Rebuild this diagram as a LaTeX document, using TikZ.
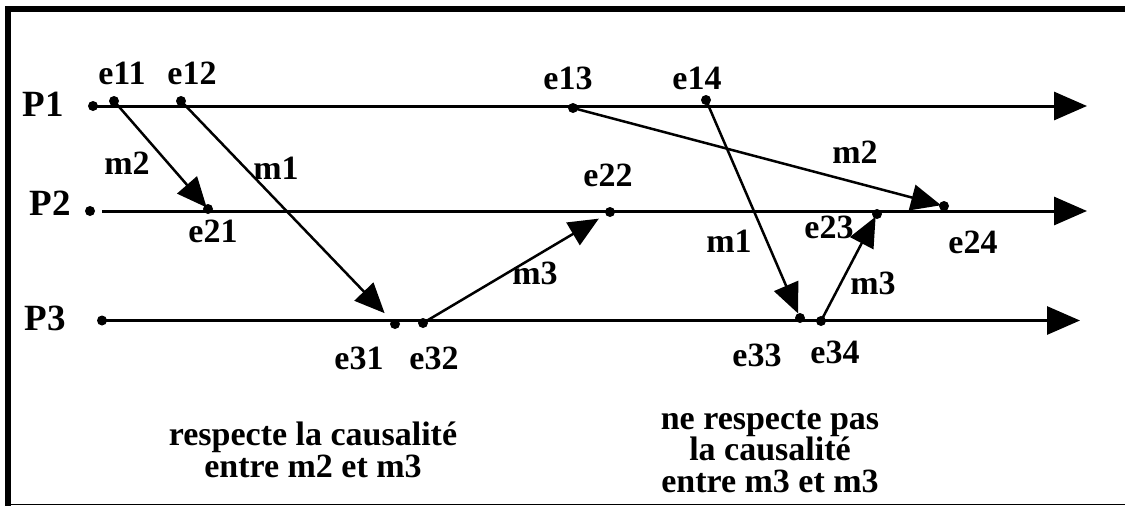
\documentclass[tikz,border=0pt]{standalone}
\usepackage{fontspec}
\setmainfont{Liberation Serif}
\usetikzlibrary{arrows.meta}
\begin{document}
\begin{tikzpicture}[x=1pt,y=-1pt,
  dot/.style={circle,fill=black,inner sep=0pt,minimum size=10pt},
  lbl/.style={inner sep=0pt,font=\fontsize{34}{34}\selectfont\bfseries},
  plbl/.style={inner sep=0pt,font=\fontsize{37}{37}\selectfont\bfseries},
  caption/.style={inner sep=0pt,align=center,font=\fontsize{34}{31.5}\selectfont\bfseries},
  axis/.style={line width=3pt,-{Triangle[length=33pt,width=28pt]}},
  msg/.style={line width=2.5pt,-{Triangle[length=30pt,width=26pt]}},
]
\useasboundingbox (0,0) rectangle (1125,506);
% frame
\fill (5,6) rectangle (1125,12);
\fill (5,6) rectangle (11,506);
\draw[line width=1.7pt] (8,504.5) -- (1125,504.5);

% process lines
\node[dot] (s1) at (93,106) {};
\node[dot] (s2) at (90,211) {};
\node[dot] (s3) at (102,320.5) {};
\coordinate (t1) at (1087,106);
\coordinate (t2) at (1087,211);
\coordinate (t3) at (1080,320.5);
\draw[axis] (s1.center) -- (t1);
\draw[axis,shorten <=12pt] (s2.center) -- (t2);
\draw[axis] (s3.center) -- (t3);
\node[plbl] (P1) at (43,104) {P1};
\node[plbl] (P2) at (50,203) {P2};
\node[plbl] (P3) at (45,318) {P3};

% events
\node[dot] (e11) at (114,101) {};
\node[dot] (e12) at (181,101) {};
\node[dot] (e13) at (573,108) {};
\node[dot] (e14) at (706,100) {};
\node[dot] (e21) at (208,209) {};
\node[dot] (e22) at (610,212) {};
\node[dot] (e23) at (877,214) {};
\node[dot] (e24) at (944,206) {};
\node[dot] (e31) at (395,324) {};
\node[dot] (e32) at (423,323) {};
\node[dot] (e33) at (800,318) {};
\node[dot] (e34) at (821,321) {};

\node[lbl] (le11) at (122,73) {e11};
\node[lbl] (le12) at (192,73) {e12};
\node[lbl] (le13) at (568,78) {e13};
\node[lbl] (le14) at (697,78) {e14};
\node[lbl] (le21) at (213,231) {e21};
\node[lbl] (le22) at (608,175) {e22};
\node[lbl] (le23) at (829,227) {e23};
\node[lbl] (le24) at (973,242) {e24};
\node[lbl] (le31) at (359,358) {e31};
\node[lbl] (le32) at (434,358) {e32};
\node[lbl] (le33) at (757,355) {e33};
\node[lbl] (le34) at (835,352) {e34};

% messages
\draw[msg,shorten >=2pt] (e11.center) -- (e21.center);
\draw[msg,shorten >=15pt] (e12.center) -- (e31.center);
\draw[msg,shorten >=13pt] (e32.center) -- (e22.center);
\draw[msg,shorten >=3pt] (e13.center) -- (e24.center);
\draw[msg,shorten >=5pt] (e14.center) -- (e33.center);
\draw[msg,shorten >=3pt] (e34.center) -- (e23.center);

\node[lbl] (m2a) at (127,163) {m2};
\node[lbl] (m1a) at (276,168) {m1};
\node[lbl] (m3a) at (535,273) {m3};
\node[lbl] (m2b) at (855,152) {m2};
\node[lbl] (m1b) at (729,241) {m1};
\node[lbl] (m3b) at (873,283) {m3};

% captions
\node[caption,anchor=base] (c1) at (313,477) {respecte la causalité\\entre m2 et m3};
\node[caption,anchor=base] (c2) at (770,492) {ne respecte pas\\la causalité\\entre m3 et m3};
\end{tikzpicture}
\end{document}
